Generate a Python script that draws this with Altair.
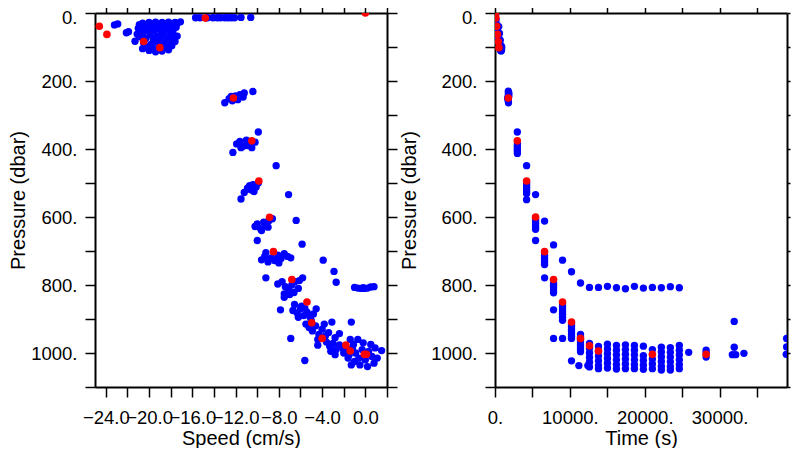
import altair as alt
import pandas as pd

# ---------------- LEFT PANEL: speed (cm/s) vs pressure (dbar) ----------------
left_surface = [(-15.7, 14), (-15.3, 14), (-14.6, 14), (-14.1, 14), (-13.7, 14), (-13.4, 14),
                (-13.0, 14), (-12.7, 14), (-12.4, 14), (-12.1, 14), (-11.5, 13), (-10.6, 13)]
left_top = [(-23.2, 35), (-22.9, 32), (-22.1, 58), (-21.9, 55), (-21.3, 83),
            (-20.6, 30), (-20.0, 28), (-19.4, 27), (-18.8, 28), (-18.2, 27), (-17.6, 28), (-17.1, 26),
            (-20.9, 34), (-19.7, 33), (-18.5, 32), (-17.4, 31),
            (-21.0, 45), (-20.5, 42), (-19.9, 44), (-19.2, 41), (-18.6, 43), (-18.0, 40), (-17.5, 42),
            (-20.2, 52), (-19.5, 50), (-18.9, 53), (-18.2, 50), (-17.8, 55), (-20.8, 55),
            (-21.1, 62), (-20.6, 66), (-19.9, 64), (-19.3, 68), (-18.7, 62), (-18.1, 66), (-17.4, 68),
            (-20.3, 75), (-19.6, 78), (-19.0, 74), (-18.4, 79), (-17.9, 73), (-20.9, 70),
            (-20.5, 88), (-19.8, 92), (-19.2, 86), (-18.6, 90), (-18.0, 86), (-17.6, 84),
            (-20.2, 98), (-19.6, 104), (-19.0, 98), (-18.4, 100), (-17.9, 96),
            (-20.0, 110), (-19.4, 114), (-18.8, 112), (-18.2, 108), (-20.6, 105)]
left_mid = [(-13.0, 264), (-12.6, 252), (-12.3, 258), (-12.0, 244), (-11.8, 255), (-11.6, 240),
            (-11.3, 247), (-11.2, 235), (-10.4, 231), (-12.4, 245), (-11.9, 250),
            (-9.9, 350), (-11.9, 385), (-11.6, 378), (-11.3, 392), (-11.0, 374), (-10.8, 386),
            (-10.5, 396), (-10.2, 380), (-11.5, 396), (-10.9, 390), (-12.25, 410), (-8.25, 449),
            (-11.2, 528), (-10.9, 515), (-10.6, 520), (-10.4, 505), (-10.1, 512), (-9.9, 500),
            (-10.7, 508), (-10.3, 525), (-11.5, 547), (-7.1, 534),
            (-10.2, 628), (-10.0, 620), (-9.7, 634), (-9.4, 615), (-9.2, 625), (-8.9, 610),
            (-8.6, 605), (-9.6, 640), (-9.0, 630), (-10.0, 669), (-6.4, 610), (-5.85, 680)]
left_lower = [(-9.6, 726), (-9.3, 715), (-9.0, 732), (-8.7, 720), (-8.4, 728), (-8.1, 712),
              (-7.8, 722), (-7.5, 708), (-7.2, 716), (-6.9, 720), (-9.2, 705), (-8.0, 735),
              (-3.9, 727), (-9.2, 779),
              (-8.1, 797), (-7.7, 790), (-7.4, 805), (-7.1, 815), (-6.8, 800), (-6.5, 790),
              (-6.2, 810), (-7.0, 828), (-6.6, 822), (-7.5, 826), (-6.1, 787), (-5.8, 779),
              (-2.9, 760), (-2.7, 792), (-7.5, 836),
              (-1.0, 807), (-0.7, 809), (-0.4, 810), (-0.1, 810), (0.2, 809), (0.5, 806),
              (0.8, 805), (-0.2, 808)]
left_deep = [(-6.55, 857), (-7.85, 873), (-6.7, 875), (-6.3, 882), (-6.0, 870), (-5.7, 890),
             (-5.4, 880), (-5.1, 895), (-4.8, 885), (-4.55, 870), (-6.2, 895), (-5.9, 862), (-5.6, 868),
             (-5.5, 915), (-5.2, 925), (-4.9, 935), (-4.6, 920), (-4.3, 945), (-4.0, 930), (-3.7, 950),
             (-3.4, 940), (-3.1, 909), (-2.8, 955), (-4.4, 960), (-3.8, 915), (-5.0, 905), (-1.3, 909),
             (-6.9, 957), (-4.4, 977),
             (-3.6, 968), (-3.3, 980), (-3.0, 972), (-2.7, 990), (-2.4, 943), (-2.4, 976), (-2.1, 985),
             (-1.8, 995), (-1.5, 1005), (-1.2, 985), (-0.9, 1000), (-0.7, 960), (-0.6, 1015),
             (-0.3, 990), (0.0, 1020), (0.3, 995), (0.6, 1010), (0.9, 985), (-1.0, 1025),
             (-0.5, 1035), (0.2, 1040), (0.8, 1030), (1.1, 1015), (-1.6, 1015), (-2.0, 1000),
             (-2.8, 1005), (-3.2, 995), (1.5, 993), (-5.6, 1022), (-1.3, 1035), (0.5, 975),
             (-0.2, 970), (-1.4, 960), (-1.1, 975)]
left_red = [(-24.6, 39), (-23.9, 63), (-20.5, 84), (-19.0, 102), (-14.8, 15), (0.0, 0),
            (-12.2, 250), (-10.5, 376), (-9.85, 494), (-8.86, 601), (-8.5, 702), (-6.8, 784),
            (-5.4, 850), (-4.96, 911), (-4.0, 957), (-1.8, 977), (-1.4, 994), (-0.1, 1004), (0.1, 1004)]

# ---------------- RIGHT PANEL: time (s) vs pressure (dbar) ----------------
right_early = [(30, 0), (80, 8), (150, 20), (250, 35), (300, 45), (350, 55), (420, 65), (480, 75),
               (520, 85), (600, 90), (650, 100), (700, 105), (750, 110), (820, 112), (880, 108),
               (900, 100), (780, 95), (700, 80), (600, 60), (500, 40),
               (1780, 230), (1780, 238), (1850, 244), (1700, 252), (1780, 258), (1800, 264),
               (1850, 236), (1720, 248),
               (2980, 350), (3000, 384), (2980, 392), (2980, 399), (2980, 406), (2990, 413),
               (4220, 449), (4220, 500), (4220, 506), (4220, 512), (4220, 518), (4220, 525),
               (4220, 531), (4220, 549),
               (5420, 534), (5420, 606), (5420, 612), (5420, 618), (5420, 624), (5420, 630),
               (5420, 636), (5420, 669),
               (6620, 612), (6620, 712), (6620, 719), (6620, 726), (6620, 733), (6620, 740), (6620, 779),
               (7820, 682), (7820, 795), (7820, 801), (7820, 808), (7820, 815), (7820, 823),
               (7820, 873), (7820, 957),
               (9020, 727), (9020, 856), (9020, 863), (9020, 870), (9020, 878), (9020, 886),
               (9020, 895), (9020, 904), (9020, 957),
               (10220, 761), (10220, 915), (10220, 922), (10220, 930), (10220, 937), (10220, 944),
               (10220, 951), (10220, 957), (10220, 1023),
               (11420, 794), (11420, 945), (11420, 952), (11420, 962), (11420, 968), (11420, 975),
               (11420, 982), (11420, 989), (11420, 996), (11200, 1037)]
right_park800 = [(12620, 807), (13820, 807), (15020, 804), (16220, 808), (17420, 811), (18620, 804),
                 (19820, 809), (21020, 807), (22220, 808), (23420, 805), (24620, 808)]
right_bottom = [(12620, 972), (12620, 986), (12620, 1000), (12620, 1013), (12620, 1027), (12620, 1041),
                (12400, 1037),
                (13820, 981), (13820, 995), (13820, 1009), (13820, 1023), (13820, 1037), (13820, 1046),
                (15020, 974), (15020, 988), (15020, 1002), (15020, 1016), (15020, 1030), (15020, 1044),
                (16220, 978), (16220, 992), (16220, 1006), (16220, 1020), (16220, 1034), (16220, 1047),
                (17420, 976), (17420, 990), (17420, 1004), (17420, 1018), (17420, 1032), (17420, 1046),
                (18620, 978), (18620, 992), (18620, 1006), (18620, 1020), (18620, 1034), (18620, 1046),
                (19820, 980), (19820, 1008), (19820, 1022), (19820, 1036), (19820, 1048),
                (21020, 990), (21020, 1018), (21020, 1032), (21020, 1046),
                (22220, 983), (22220, 997), (22220, 1011), (22220, 1025), (22220, 1039), (22220, 1050),
                (23420, 984), (23420, 998), (23420, 1012), (23420, 1026), (23420, 1040), (23420, 1050),
                (24620, 978), (24620, 992), (24620, 1006), (24620, 1020), (24620, 1034), (24620, 1046)]
right_late = [(25870, 998), (28200, 992), (28200, 1000), (28200, 1012), (31950, 907), (31950, 983),
              (31700, 1005), (32150, 1005), (33250, 1001), (38950, 957), (38950, 982), (38900, 1004)]
right_red = [(60, 0), (110, 15), (220, 39), (330, 63), (430, 84), (520, 102), (1780, 250),
             (2980, 376), (4220, 494), (5420, 600), (6620, 702), (7820, 784), (9020, 850),
             (10220, 909), (11420, 957), (12620, 979), (13820, 994), (21020, 1004), (28200, 1004)]

y_ticks = [0, 100, 200, 300, 400, 500, 600, 700, 800, 900, 1000, 1100]
speed_ticks = [-24, -22, -20, -18, -16, -14, -12, -10, -8, -6, -4, -2, 0, 2]
time_ticks = [0, 5000, 10000, 15000, 20000, 25000, 30000, 35000]

FONT = "Liberation Sans"
BLUE = "#0000ff"
RED = "#ff0000"


def frame(xf, blue_pts, red_pts, xdom, xticks, xlabel_expr, xtitle, ytitle_x, right_tick):
    df_b = pd.DataFrame(blue_pts, columns=[xf, "pres"])
    df_r = pd.DataFrame(red_pts, columns=[xf, "pres"])
    xsc = alt.Scale(domain=xdom, nice=False, zero=False)
    ysc = alt.Scale(domain=[0, 1100], reverse=True, nice=False, zero=False)
    common = dict(grid=False, domainColor="black", domainWidth=2, tickColor="black",
                  tickWidth=1.5, labelFlush=False, labelOverlap=False, labelBound=False)
    x_main = alt.Axis(orient="bottom", values=xticks, labelExpr=xlabel_expr, tickSize=10,
                      labelPadding=11, labelFont=FONT, labelFontSize=18.5, labelColor="black",
                      title=xtitle, titleFont=FONT, titleFontSize=20, titleFontWeight="normal",
                      titleColor="black", titleY=41, **common)
    y_main = alt.Axis(orient="left", values=y_ticks,
                      labelExpr="datum.value % 200 == 0 ? datum.value + '.' : ''",
                      labelOffset={"condition": {"test": "datum.value == 0", "value": 4}, "value": 0},
                      tickSize=10, labelPadding=8, labelFont=FONT, labelFontSize=18.5,
                      labelColor="black", title="Pressure (dbar)", titleFont=FONT,
                      titleFontSize=20, titleFontWeight="normal", titleColor="black",
                      titleX=ytitle_x, **common)
    x_top = alt.Axis(orient="top", values=xticks, labels=False, tickSize=6, title=None, **common)
    y_right = alt.Axis(orient="right", values=y_ticks, labels=False, tickSize=right_tick,
                       title=None, **common)
    blue = alt.Chart(df_b).mark_circle(size=54, color=BLUE, opacity=1, clip=True).encode(
        x=alt.X(f"{xf}:Q", scale=xsc, axis=x_main),
        y=alt.Y("pres:Q", scale=ysc, axis=y_main),
    )
    red = alt.Chart(df_r).mark_circle(size=58, color=RED, opacity=1, clip=True).encode(
        x=alt.X(f"{xf}:Q", scale=xsc, axis=x_top),
        y=alt.Y("pres:Q", scale=ysc, axis=y_right),
    )
    return alt.layer(blue, red).resolve_axis(x="independent", y="independent").properties(
        width=292, height=374)


left = frame("speed", left_surface + left_top + left_mid + left_lower + left_deep, left_red,
             [-25, 2], speed_ticks,
             "datum.value % 4 == 0 && datum.value <= 0 ? format(datum.value, '.1f') : ''",
             "Speed (cm/s)", -67, 10)
right = frame("time", right_early + right_park800 + right_bottom + right_late, right_red,
              [0, 39000], time_ticks,
              "datum.value % 10000 == 0 ? datum.value + '.' : ''",
              "Time (s)", -76, 3)

chart = alt.hconcat(left, right, spacing=108, bounds="flush").configure_view(
    stroke=None).properties(
    padding={"left": 0, "top": -2, "right": 0, "bottom": 0}, background="white")

chart.save("out.html", embed_options={"renderer": "svg", "actions": False})
